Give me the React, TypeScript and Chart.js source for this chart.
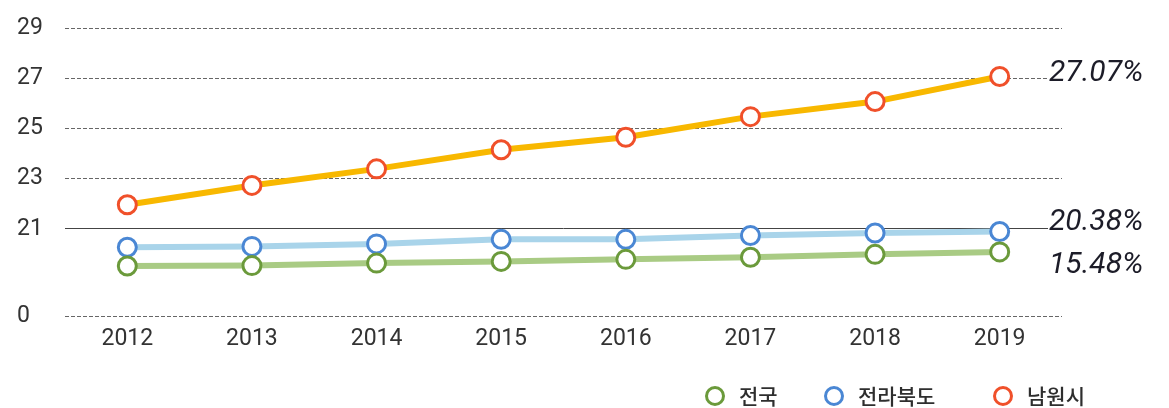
import React, { useEffect, useRef } from 'react';
import { Chart, registerables } from 'chart.js';

Chart.register(...registerables);

const YEARS = ['2012', '2013', '2014', '2015', '2016', '2017', '2018', '2019'];
const SERIES_NAMES = ['전국', '전라북도', '남원시'];
const NATIONAL = [12.1, 12.2, 12.8, 13.2, 13.7, 14.2, 14.9, 15.48];
const JEONBUK = [16.6, 16.8, 17.4, 18.5, 18.5, 19.4, 20.0, 20.38];
const NAMWON = [21.96, 22.73, 23.39, 24.15, 24.65, 25.47, 26.07, 27.07];
const Y_TICKS = [0, 21, 23, 25, 27, 29];

// broken axis: values below 21 are compressed into the band between "0" and "21"
const BREAK_AT = 21;
const BREAK_LOW = 17.51;
const toAxis = (v: number) => (v >= BREAK_AT ? v : BREAK_LOW + (v * (BREAK_AT - BREAK_LOW)) / BREAK_AT);

const LINE_COLORS = ['#A9CB84', '#A9D4EA', '#F8B800'];
const POINT_COLORS = ['#6B9A3B', '#4A87D4', '#F0502A'];
const END_LABEL_OFFSETS = [13, -10, -4];
const LEGEND_X = [715, 834, 1003];

const endLabels = {
  id: 'endLabels',
  afterDatasetsDraw(chart: any) {
    const ctx = chart.ctx;
    ctx.save();
    chart.data.datasets.forEach((ds: any, i: number) => {
      const meta = chart.getDatasetMeta(i);
      const pt = meta.data[meta.data.length - 1];
      const raw = ds.rawValues[ds.rawValues.length - 1];
      const y = pt.y + END_LABEL_OFFSETS[i];
      ctx.fillStyle = '#ffffff';
      ctx.fillRect(1048, y - 16, 121, 32);
      ctx.font = 'italic 400 30px Roboto';
      ctx.fillStyle = '#1c1c28';
      ctx.textAlign = 'left';
      ctx.textBaseline = 'middle';
      ctx.fillText(`${raw.toFixed(2)}%`, 1049, y + 1);
    });
    ctx.restore();
  },
};

const customLegend = {
  id: 'customLegend',
  afterDraw(chart: any) {
    const ctx = chart.ctx;
    ctx.save();
    chart.data.datasets.forEach((ds: any, i: number) => {
      const cx = LEGEND_X[i];
      const cy = 396;
      ctx.beginPath();
      ctx.arc(cx, cy, 8.5, 0, Math.PI * 2);
      ctx.fillStyle = '#ffffff';
      ctx.fill();
      ctx.lineWidth = 3;
      ctx.strokeStyle = ds.pointBorderColor;
      ctx.stroke();
      ctx.font = '500 21px "Noto Sans CJK KR"';
      ctx.fillStyle = '#2e2e2e';
      ctx.textAlign = 'left';
      ctx.textBaseline = 'middle';
      ctx.fillText(ds.label, cx + 24, cy);
    });
    ctx.restore();
  },
};

export default function App() {
  const ref = useRef<HTMLCanvasElement>(null);
  useEffect(() => {
    if (!ref.current) return;
    const series = [NATIONAL, JEONBUK, NAMWON];
    const chart = new Chart(ref.current, {
      type: 'line',
      data: {
        labels: YEARS,
        datasets: series.map((vals, i) => ({
          label: SERIES_NAMES[i],
          data: vals.map(toAxis),
          rawValues: vals,
          borderColor: LINE_COLORS[i],
          borderWidth: 6,
          pointRadius: 9,
          pointBorderWidth: 3,
          pointBackgroundColor: '#ffffff',
          pointBorderColor: POINT_COLORS[i],
          tension: 0,
          fill: false,
          clip: false,
        })) as any,
      },
      options: {
        animation: false,
        responsive: true,
        maintainAspectRatio: false,
        layout: { padding: { top: 28, left: 17, right: 107, bottom: 0 } },
        plugins: {
          legend: { display: false },
          tooltip: { enabled: false },
        },
        scales: {
          x: {
            type: 'category',
            offset: true,
            grid: { display: false },
            border: { display: false },
            ticks: {
              padding: 1,
              color: '#333333',
              font: { family: 'Roboto', size: 23 },
              maxRotation: 0,
            },
            afterFit(scale: any) {
              scale.height = 91.5;
            },
          },
          y: {
            type: 'linear',
            min: BREAK_LOW,
            max: 29,
            afterBuildTicks(scale: any) {
              scale.ticks = Y_TICKS.map((v) => ({ value: toAxis(v) }));
            },
            afterFit(scale: any) {
              scale.width = 48;
            },
            grid: {
              drawTicks: false,
              lineWidth: 1,
              color: (c: any) => (c.tick && c.tick.value === BREAK_AT ? '#444444' : '#666666'),
            },
            border: {
              display: false,
              dash: (c: any) => (c.tick && c.tick.value === BREAK_AT ? [] : [4, 2]),
            },
            ticks: {
              crossAlign: 'far',
              padding: 0,
              color: '#333333',
              font: { family: 'Roboto', size: 23 },
              callback: (_v: any, idx: number) => String(Y_TICKS[idx]),
            },
          },
        },
      },
      plugins: [endLabels, customLegend],
    } as any);
    return () => chart.destroy();
  }, []);
  return (
    <div style={{ position: 'absolute', left: 0, top: 0, width: 1169, height: 408, background: '#fff' }}>
      <canvas ref={ref} />
    </div>
  );
}
